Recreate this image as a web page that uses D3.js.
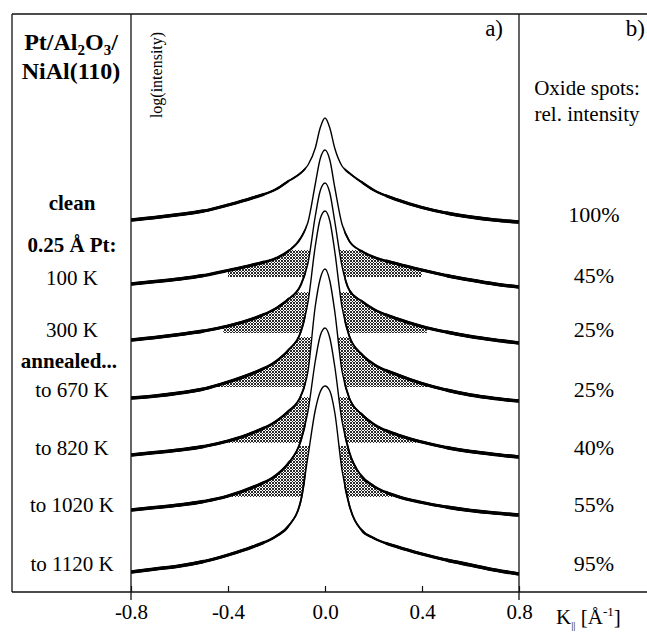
<!DOCTYPE html>
<html><head><meta charset="utf-8">
<script src="https://cdn.jsdelivr.net/npm/d3@7"></script>
<style>
html,body{margin:0;padding:0;background:#fff;}
svg{display:block;font-family:"Liberation Serif","Times New Roman",serif;}
</style></head>
<body>
<script>
// ---------- DATA (log intensity, arbitrary units) ----------
const kGrid = [-0.8,-0.7,-0.6,-0.5,-0.4,-0.3,-0.2,-0.15,-0.1,-0.07,-0.04,-0.02,0,0.02,0.04,0.07,0.1,0.15,0.2,0.3,0.4,0.5,0.6,0.7,0.8];
const clean   = [37.2,37.45,37.75,38.1,38.7,39.4,40.3,41.1,41.9,42.7,44.4,46.4,47.4,46.4,44.4,42.6,41.9,41.0,40.2,39.2,38.45,37.9,37.5,37.2,37.0];
const pt100K  = [30.8,31.05,31.3,31.65,32.15,32.7,33.4,34.1,35.4,37.0,40.8,43.3,44.2,43.2,40.5,36.8,35.1,34.1,33.5,32.8,32.2,31.65,31.2,30.8,30.5];
const pt300K  = [25.2,25.45,25.75,26.1,26.6,27.3,28.4,29.3,30.7,32.9,37.6,40.1,40.9,39.9,37.1,32.6,30.2,29.1,28.3,27.3,26.55,26.0,25.55,25.2,24.9];
const ann670  = [19.4,19.6,19.9,20.3,21.0,21.85,23.1,24.2,26.0,29.0,34.6,37.3,38.1,37.1,34.1,28.5,25.6,23.8,22.8,21.7,20.85,20.2,19.7,19.35,19.1];
const ann820  = [13.7,13.95,14.2,14.55,15.1,15.9,17.1,18.1,19.6,22.1,28.6,31.3,32.3,31.1,28.1,22.1,19.4,17.8,16.8,15.7,15.0,14.45,14.05,13.75,13.5];
const ann1020 = [8.2,8.45,8.7,9.05,9.6,10.45,11.7,12.9,15.1,18.1,23.1,25.6,26.4,25.4,22.6,17.1,14.0,11.6,10.6,9.55,8.95,8.5,8.15,7.9,7.7];
const ann1120 = [2.0,2.3,2.6,3.05,3.7,4.5,5.6,6.6,9.1,13.6,18.2,20.0,20.6,20.1,18.0,12.2,8.7,6.2,5.4,4.5,3.8,3.2,2.7,2.2,1.8];

const curveLabels = ["clean","100 K","300 K","to 670 K","to 820 K","to 1020 K","to 1120 K"];
const curveLabelBold = [true,false,false,false,false,false,false];
const oxideSpots = [100,45,25,25,40,55,95];
// oxide-spot (shaded) component: background level, top level, half-range in K
const spotBase = [null,31.5,25.9,20.5,14.9,9.5,null];
const spotTop  = [null,34.2,30.0,25.5,19.5,14.6,null];
const spotK    = [null,0.40,0.42,0.45,0.45,0.40,null];
const xTicks = [-0.8,-0.4,0.0,0.4,0.8];

const curves = [clean,pt100K,pt300K,ann670,ann820,ann1020,ann1120];

// ---------- LAYOUT ----------
const W=647,H=640;
const svg=d3.select("body").append("svg").attr("width",W).attr("height",H);
const x=d3.scaleLinear().domain([-0.8,0.8]).range([131,519]);
const y=d3.scaleLinear().domain([0,57.8]).range([592,14]);

const defs=svg.append("defs");
const pat=defs.append("pattern").attr("id","hatch").attr("patternUnits","userSpaceOnUse")
  .attr("width",3).attr("height",3);
pat.append("path").attr("d","M0,0L3,3M3,0L0,3").attr("stroke","#2a2a2a").attr("stroke-width",1);

defs.append("clipPath").attr("id","plotclip").append("rect")
  .attr("x",x(-0.8)).attr("y",0).attr("width",x(0.8)-x(-0.8)).attr("height",y(0));

// graded stroke widths: the traces get noisier (visually thicker) away from the peak
const bands=[[0.08,1.9],[0.15,2.5],[0.25,3.1],[0.5,3.6]];
bands.forEach((b,j)=>{
  const c=defs.append("clipPath").attr("id","band"+j);
  c.append("rect").attr("x",0).attr("y",0).attr("width",x(-b[0])).attr("height",H);
  c.append("rect").attr("x",x(b[0])).attr("y",0).attr("width",W-x(b[0])).attr("height",H);
});

const pts=c=>kGrid.map((k,i)=>[k,c[i]]);
const line=d3.line().x(d=>x(d[0])).y(d=>y(d[1])).curve(d3.curveMonotoneX);
const area=d3.area().x(d=>x(d[0])).y0(y(0)).y1(d=>y(d[1])).curve(d3.curveMonotoneX);

const g=svg.append("g").attr("clip-path","url(#plotclip)");
curves.forEach((c,i)=>{
  const p=pts(c);
  g.append("path").attr("d",area(p)).attr("fill","#fff");
  if(spotBase[i]!==null){
    defs.append("clipPath").attr("id","under"+i).append("path").attr("d",area(p));
    g.append("rect")
      .attr("x",x(-spotK[i])).attr("width",x(spotK[i])-x(-spotK[i]))
      .attr("y",y(spotTop[i])).attr("height",y(spotBase[i])-y(spotTop[i]))
      .attr("fill","url(#hatch)").attr("clip-path","url(#under"+i+")");
  }
  g.append("path").attr("d",line(p)).attr("fill","none").attr("stroke","#000")
    .attr("stroke-width",1.4).attr("stroke-linejoin","round");
  bands.forEach((b,j)=>{
    g.append("g").attr("clip-path","url(#band"+j+")").append("path").attr("d",line(p))
      .attr("fill","none").attr("stroke","#000").attr("stroke-width",b[1]).attr("stroke-linejoin","round");
  });
});

// ---------- FRAME ----------
const fr=svg.append("g").attr("stroke","#111").attr("stroke-width",1.3).attr("fill","none");
fr.append("line").attr("x1",12).attr("x2",W).attr("y1",14).attr("y2",14);
fr.append("line").attr("x1",12).attr("x2",12).attr("y1",14).attr("y2",592);
fr.append("line").attr("x1",12).attr("x2",W).attr("y1",592).attr("y2",592);
fr.append("line").attr("x1",x(-0.8)).attr("x2",x(-0.8)).attr("y1",14).attr("y2",600);
fr.append("line").attr("x1",x(0.8)).attr("x2",x(0.8)).attr("y1",14).attr("y2",600);

// ---------- AXIS ----------
const ax=svg.append("g").attr("transform","translate(0,592)")
  .call(d3.axisBottom(x).tickValues(xTicks).tickSize(-6).tickPadding(12).tickFormat(d=>d.toFixed(1)));
ax.select(".domain").remove();
ax.selectAll("line").attr("stroke","#111").attr("stroke-width",1.2);
ax.selectAll("text").attr("font-family","Liberation Serif").attr("font-size",21).attr("fill","#000");

const kl=svg.append("text").attr("x",556).attr("y",624).attr("font-size",21).attr("fill","#000");
kl.append("tspan").text("K");
kl.append("tspan").attr("font-size",11).attr("dy",5).text("||");
kl.append("tspan").attr("dy",-5).text(" [Å");
kl.append("tspan").attr("font-size",13).attr("dy",-8).text("-1");
kl.append("tspan").attr("dy",8).text("]");

// ---------- TEXTS ----------
const t1=svg.append("text").attr("x",71).attr("y",50).attr("text-anchor","middle")
  .attr("font-size",24).attr("font-weight","bold");
t1.append("tspan").text("Pt/Al");
t1.append("tspan").attr("font-size",15).attr("dy",5).text("2");
t1.append("tspan").attr("dy",-5).text("O");
t1.append("tspan").attr("font-size",15).attr("dy",5).text("3");
t1.append("tspan").attr("dy",-5).text("/");
svg.append("text").attr("x",71).attr("y",79).attr("text-anchor","middle")
  .attr("font-size",24).attr("font-weight","bold").text("NiAl(110)");

svg.append("text").attr("transform","translate(162,75) rotate(-90)").attr("text-anchor","middle")
  .attr("font-size",16).text("log(intensity)");

svg.append("text").attr("x",503).attr("y",36).attr("text-anchor","end").attr("font-size",23).text("a)");
svg.append("text").attr("x",645).attr("y",36).attr("text-anchor","end").attr("font-size",23).text("b)");
svg.append("text").attr("x",587).attr("y",95).attr("text-anchor","middle").attr("font-size",21).text("Oxide spots:");
svg.append("text").attr("x",587).attr("y",121).attr("text-anchor","middle").attr("font-size",21).text("rel. intensity");

const labelY=[210,285,337,397,455,512,571];
curveLabels.forEach((l,i)=>{
  svg.append("text").attr("x",72).attr("y",labelY[i]).attr("text-anchor","middle")
    .attr("font-size",21).attr("font-weight",curveLabelBold[i]?"bold":"normal").text(l);
  svg.append("text").attr("x",594).attr("y",labelY[i]+(i===0?12:i===1?-2:0)).attr("text-anchor","middle")
    .attr("font-size",22).text(oxideSpots[i]+"%");
});
svg.append("text").attr("x",72).attr("y",252).attr("text-anchor","middle")
  .attr("font-size",21).attr("font-weight","bold").text("0.25 Å Pt:");
svg.append("text").attr("x",69).attr("y",368).attr("text-anchor","middle")
  .attr("font-size",21).attr("font-weight","bold").text("annealed...");
</script>
</body></html>
